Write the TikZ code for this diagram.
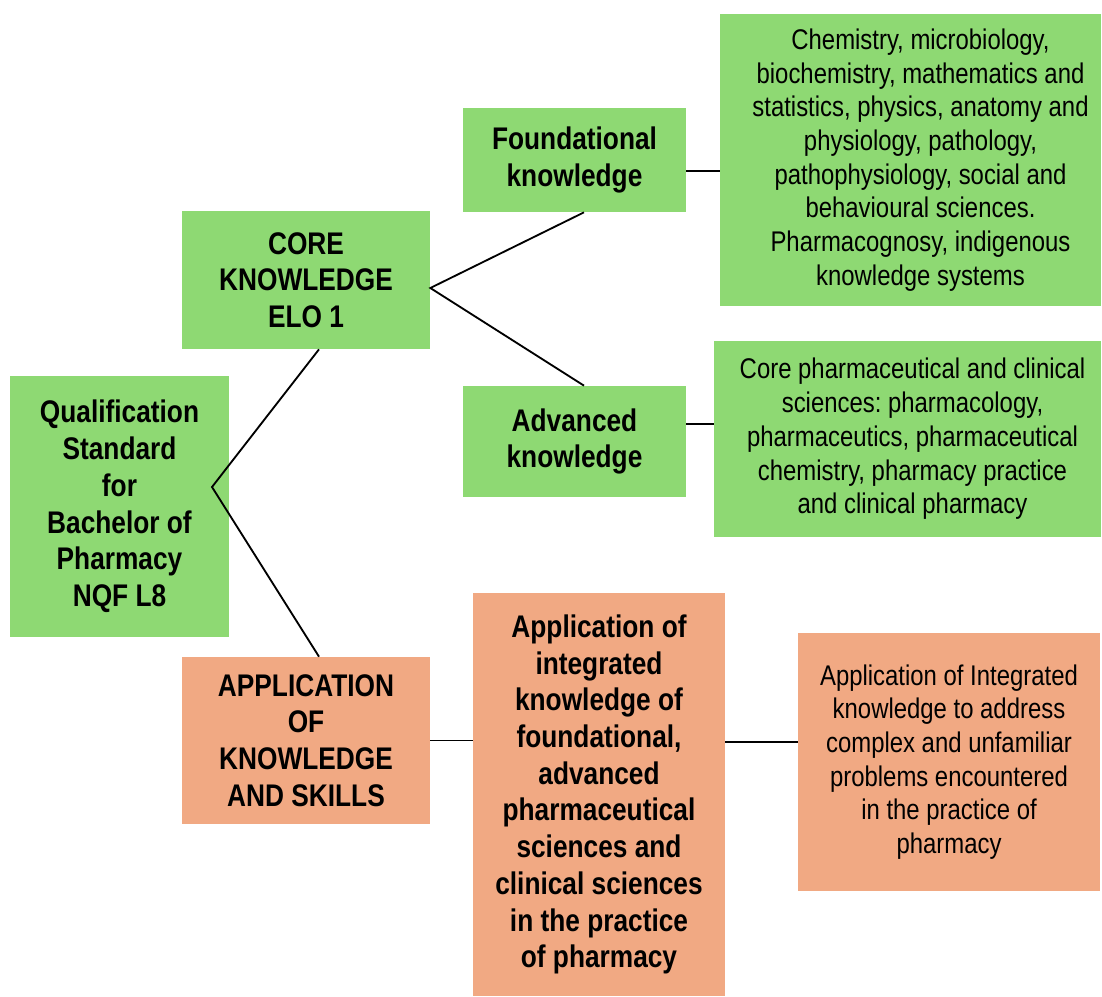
\documentclass[tikz,border=0pt]{standalone}
\usepackage{fontspec}
\setmainfont{Liberation Sans}[FakeStretch=0.84]
\definecolor{gbox}{RGB}{142,217,115}
\definecolor{obox}{RGB}{241,169,131}
\frenchspacing
\begin{document}
\begin{tikzpicture}[x=0.02cm,y=-0.02cm,
 box/.style={inner sep=0pt, align=center, anchor=center},
 green/.style={box, fill=gbox},
 orange/.style={box, fill=obox},
 bold/.style={font=\fontsize{17.8}{20.9}\selectfont\bfseries},
 reg/.style={font=\fontsize{16.2}{19.2}\selectfont},
 link/.style={draw=black, line width=1.05pt}]
\useasboundingbox[fill=white] (0,0) rectangle (1102,997);

\node[green, bold, minimum width=4.38cm, minimum height=5.22cm] (qual) at (119.5,506.5)
 {Qualification\\Standard\\for\\Bachelor of\\Pharmacy\\NQF L8};
\node[green, bold, minimum width=4.96cm, minimum height=2.76cm] (core) at (306,280)
 {CORE\\KNOWLEDGE\\ELO 1};
\node[orange, bold, minimum width=4.96cm, minimum height=3.34cm] (app) at (306,740.5)
 {APPLICATION\\OF\\KNOWLEDGE\\AND SKILLS};
\node[green, bold, minimum width=4.46cm, minimum height=2.08cm] (found) at (574.5,160)
 {Foundational\\knowledge};
\node[green, bold, minimum width=4.46cm, minimum height=2.22cm] (adv) at (574.5,441.5)
 {Advanced\\knowledge};
\node[green, reg, minimum width=7.62cm, minimum height=5.84cm] (fdet) at (910.5,160)
 {\hspace*{0.4cm}Chemistry, microbiology,\\\hspace*{0.4cm}biochemistry, mathematics and\\\hspace*{0.4cm}statistics, physics, anatomy and\\\hspace*{0.4cm}physiology, pathology,\\\hspace*{0.4cm}pathophysiology, social and\\\hspace*{0.4cm}behavioural sciences.\\\hspace*{0.4cm}Pharmacognosy, indigenous\\\hspace*{0.4cm}knowledge systems};
\node[green, reg, minimum width=7.74cm, minimum height=3.92cm] (adet) at (907.5,439)
 {\hspace*{0.2cm}Core pharmaceutical and clinical\\\hspace*{0.2cm}sciences: pharmacology,\\\hspace*{0.2cm}pharmaceutics, pharmaceutical\\\hspace*{0.2cm}chemistry, pharmacy practice\\\hspace*{0.2cm}and clinical pharmacy};
\node[orange, bold, minimum width=5.04cm, minimum height=8.06cm] (integ) at (599,794.5)
 {Application of\\integrated\\knowledge of\\foundational,\\advanced\\pharmaceutical\\sciences and\\clinical sciences\\in the practice\\of pharmacy};
\node[orange, reg, minimum width=6.04cm, minimum height=5.16cm] (idet) at (949,762)
 {Application of Integrated\\knowledge to address\\complex and unfamiliar\\problems encountered\\in the practice of\\pharmacy};

\coordinate (qv) at (212,487);
\draw[link] ([xshift=0.26cm]core.south) -- (qv) -- ([xshift=0.26cm]app.north);
\draw[link] ([xshift=0.19cm]found.south) -- ([yshift=-0.16cm]core.east) -- ([xshift=0.19cm]adv.north);
\draw[link] ([yshift=-0.22cm]found.east) -- ([yshift=-0.22cm]found.east -| fdet.west);
\draw[link] ([yshift=0.35cm]adv.east) -- ([yshift=0.35cm]adv.east -| adet.west);
\draw[link] (app.east) -- (app.east -| integ.west);
\draw[link] ([yshift=1.05cm]integ.east) -- ([yshift=1.05cm]integ.east -| idet.west);
\end{tikzpicture}
\end{document}
